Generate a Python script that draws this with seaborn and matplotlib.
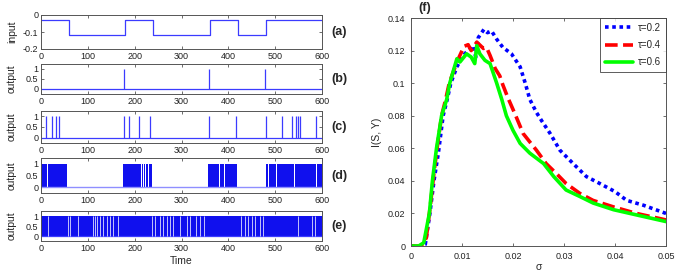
import numpy as np
import pandas as pd
import matplotlib
matplotlib.use("Agg")
import matplotlib.pyplot as plt
import seaborn as sns

sns.set_style("ticks")
plt.rcParams['font.family'] = ['Liberation Sans', 'DejaVu Sans']

# ---------------- data ----------------
time_range = [0, 600]
input_times = [0, 60, 180, 240, 360, 420, 480, 600]
input_values = [-0.03, -0.12, -0.03, -0.12, -0.03, -0.12, -0.03, -0.03]

spikes_b = [178, 358, 478]
spikes_c = [10, 23, 31, 39, 177, 187, 209, 232, 358, 416, 480, 514, 537, 545, 549, 554, 587]

bursts_d = [(0, 10), (11.5, 13.5), (15, 56),
            (176, 213), (215, 217), (219, 223), (225, 228), (230, 232), (233.5, 236),
            (357, 381), (383, 390), (393, 418),
            (480, 484), (486, 502), (504, 541), (543, 584), (586, 587), (589, 600)]

gaps_e = [15.6, 58, 62, 80, 112, 115, 119, 126, 133, 140, 147, 154, 165,
          236, 243, 254, 261, 268, 275, 282, 297, 311, 318, 332, 339, 347,
          428, 435.5, 443, 450, 457, 467.6, 475, 549, 578, 585]

sigma_02 = [0, 0.001, 0.002, 0.0028, 0.0037, 0.0045, 0.0054, 0.0063, 0.0071, 0.0078, 0.009,
            0.0102, 0.0112, 0.0122, 0.0127, 0.0132, 0.0143, 0.015, 0.0158, 0.0168, 0.018,
            0.0197, 0.0214, 0.0224, 0.0233, 0.0246, 0.0256, 0.0273, 0.0292, 0.0318, 0.0344,
            0.037, 0.04, 0.0423, 0.0456, 0.05]
info_02 = [0, 0, 0, 0.001, 0.02, 0.04, 0.058, 0.08, 0.09, 0.1, 0.11,
           0.117, 0.12, 0.123, 0.116, 0.128, 0.133, 0.131, 0.132, 0.127, 0.122,
           0.118, 0.11, 0.1, 0.09, 0.082, 0.077, 0.069, 0.0588, 0.0506, 0.0426,
           0.0384, 0.0334, 0.028, 0.025, 0.02]

sigma_04 = [0, 0.002, 0.003, 0.0038, 0.0045, 0.0052, 0.006, 0.0068, 0.0075, 0.009, 0.0104,
            0.0112, 0.0118, 0.0129, 0.0142, 0.0148, 0.0155, 0.0165, 0.0174, 0.018, 0.019,
            0.0204, 0.022, 0.0246, 0.0265, 0.0285, 0.0304, 0.0331, 0.0357, 0.0397, 0.0442, 0.05]
info_04 = [0, 0, 0.005, 0.025, 0.045, 0.062, 0.08, 0.09, 0.1, 0.113, 0.1226,
           0.1236, 0.12, 0.1252, 0.1213, 0.122, 0.117, 0.109, 0.1045, 0.099, 0.091,
           0.081, 0.069, 0.0588, 0.0506, 0.0445, 0.0384, 0.0323, 0.028, 0.024, 0.02, 0.016]

sigma_06 = [0, 0.0015, 0.0025, 0.0036, 0.0042, 0.005, 0.006, 0.007, 0.0076, 0.009, 0.0096,
            0.0109, 0.0118, 0.0125, 0.0129, 0.0135, 0.0145, 0.0155, 0.0168, 0.0178, 0.0187,
            0.02, 0.0214, 0.0233, 0.026, 0.028, 0.0304, 0.0331, 0.0357, 0.0397, 0.0449, 0.05]
info_06 = [0, 0, 0.002, 0.02, 0.04, 0.06, 0.08, 0.09, 0.1, 0.115, 0.113,
           0.118, 0.116, 0.112, 0.123, 0.118, 0.114, 0.112, 0.1, 0.09, 0.08,
           0.071, 0.063, 0.057, 0.0506, 0.0426, 0.0344, 0.0304, 0.0264, 0.0223, 0.0186, 0.015]

tau_labels = ["\u03c4=0.2", "\u03c4=0.4", "\u03c4=0.6"]

# ---------------- figure ----------------
W, H = 675, 274
fig = plt.figure(figsize=(W / 100, H / 100), dpi=100)

def add_ax(left, top, right, bottom):
    return fig.add_axes([left / W, 1 - bottom / H, (right - left) / W, (bottom - top) / H])

line_blue = '#3b3bff'
fill_blue = '#1010ee'
spine_col = '#555555'
tick_fs = 6.5
lab_fs = 7.5

def style(ax):
    for s in ax.spines.values():
        s.set_color(spine_col)
        s.set_linewidth(0.7)
    ax.tick_params(direction='in', length=2.5, width=0.6, top=True, right=True,
                   labelsize=tick_fs, pad=2, colors='#222222')
    ax.tick_params(axis='both', colors=spine_col, labelcolor='#222222')

L, R = 41, 322
boxes = [(15, 49), (64, 94), (111, 143), (158, 193), (211, 241)]
axs = [add_ax(L, t, R, b) for t, b in boxes]

# (a) input
ax = axs[0]
df_in = pd.DataFrame({"t": input_times, "v": input_values})
sns.lineplot(data=df_in, x="t", y="v", ax=ax, drawstyle='steps-post', color=line_blue, lw=0.9)
ax.set_ylim(-0.2, 0)
ax.set_yticks([-0.2, -0.1, 0])
ax.set_yticklabels(['-0.2', '-0.1', '0'])
ax.set_ylabel('input', fontsize=lab_fs, labelpad=2)

# (b), (c)
for ax, sp in ((axs[1], spikes_b), (axs[2], spikes_c)):
    ax.hlines(0, time_range[0], time_range[1], color=line_blue, lw=0.9)
    ax.vlines(sp, 0, 1, color=line_blue, lw=0.9)

# (d)
ax = axs[3]
ax.hlines(0, time_range[0], time_range[1], color='#8f8fff', lw=1.0)
for a, b in bursts_d:
    ax.fill_between([a, b], 0, 1, color=fill_blue, lw=0)

# (e)
ax = axs[4]
ax.hlines(0, time_range[0], time_range[1], color=line_blue, lw=0.9)
ax.fill_between(time_range, 0, 1, color=fill_blue, lw=0)
ax.vlines(gaps_e, 0, 1, color='white', lw=0.7, alpha=0.75)

for i, ax in enumerate(axs):
    style(ax)
    ax.set_xlim(time_range)
    ax.set_xticks(range(0, 601, 100))
    ax.set_xlabel('')
    if i > 0:
        ax.set_ylim(-0.25, 1.25)
        ax.set_yticks([0, 0.5, 1])
        ax.set_yticklabels(['0', '0.5', '1'])
        ax.set_ylabel('output', fontsize=lab_fs, labelpad=2)
    ax.yaxis.set_label_coords(-0.085, 0.5)
    ax.text(1.035, 0.5, '(' + 'abcde'[i] + ')', transform=ax.transAxes,
            fontsize=9, fontweight='bold', va='center', ha='left')
axs[4].set_xlabel('Time', fontsize=lab_fs, labelpad=2)

# (f)
axf = add_ax(411, 18, 666, 246)
df_f = pd.concat([
    pd.DataFrame({"sigma": sigma_02, "I": info_02, "tau": tau_labels[0]}),
    pd.DataFrame({"sigma": sigma_04, "I": info_04, "tau": tau_labels[1]}),
    pd.DataFrame({"sigma": sigma_06, "I": info_06, "tau": tau_labels[2]}),
])
colors = ['#0000ff', '#ff0000', '#00ff00']
styles = [(0, (1, 1)), (0, (3.5, 1.5)), '-']
for lab, col, ls in zip(tau_labels, colors, styles):
    sub = df_f[df_f.tau == lab]
    sns.lineplot(data=sub, x="sigma", y="I", ax=axf, color=col, lw=2.6,
                 linestyle=ls, label=lab, sort=False)
style(axf)
axf.set_xlim(0, 0.05)
axf.set_ylim(0, 0.14)
axf.set_xticks([0, 0.01, 0.02, 0.03, 0.04, 0.05])
axf.set_xticklabels(['0', '0.01', '0.02', '0.03', '0.04', '0.05'])
axf.set_yticks([0, 0.02, 0.04, 0.06, 0.08, 0.1, 0.12, 0.14])
axf.set_yticklabels(['0', '0.02', '0.04', '0.06', '0.08', '0.1', '0.12', '0.14'])
axf.tick_params(pad=4)
axf.set_xlabel('\u03c3', fontsize=lab_fs, labelpad=1)
axf.set_ylabel('I(S, Y)', fontsize=lab_fs, labelpad=4)
leg = axf.legend(loc='upper right', fontsize=7, frameon=True, fancybox=False,
                 handlelength=2.9, borderpad=0.5, labelspacing=0.75,
                 handletextpad=0.5, borderaxespad=0)
leg.get_frame().set_edgecolor('#333333')
leg.get_frame().set_linewidth(0.7)
fig.text(418 / W, 1 - 8 / H, '(f)', fontsize=9, fontweight='bold', va='center', ha='left')

fig.savefig('out.png', dpi=100)
